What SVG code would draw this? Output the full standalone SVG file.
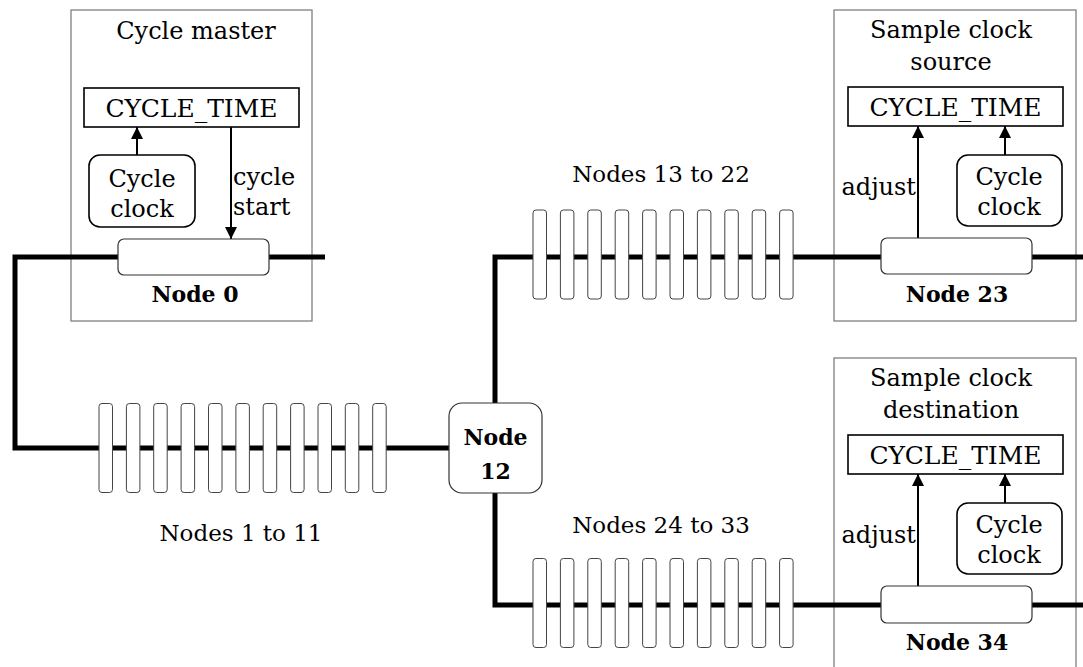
<svg xmlns="http://www.w3.org/2000/svg" width="1083" height="667" viewBox="0 0 1083 667">
  <style>
    text { font-family: "DejaVu Serif", "Liberation Serif", serif; font-size: 24px; fill: #000; }
    .c { text-anchor: middle; }
    .e { text-anchor: end; }
    .b { font-weight: bold; font-size: 22px; }
    .reg-t { font-size: 25px; }
    .grp { font-size: 23px; }
    .panel { fill: #fff; stroke: #808080; stroke-width: 1.3; }
    .reg { fill: #fff; stroke: #000; stroke-width: 1.6; }
    .clk { fill: #fff; stroke: #000; stroke-width: 1.6; }
    .node { fill: #fff; stroke: #333; stroke-width: 1.2; }
    .bar { fill: #fff; stroke: #444; stroke-width: 1; }
    .bus { fill: none; stroke: #000; stroke-width: 5; stroke-linejoin: miter; }
    .sig { fill: none; stroke: #000; stroke-width: 2; marker-end: url(#head); }
  </style>
  <defs>
    <marker id="head" markerUnits="userSpaceOnUse" markerWidth="12" markerHeight="13" refX="12" refY="6" orient="auto">
      <path d="M0,0 L12,6 L0,12 z" fill="#000"/>
    </marker>
    <rect id="tap" class="bar" width="13.5" height="89" rx="3"/>
  </defs>

  <!-- station frames -->
  <g id="cycle-master">
    <rect class="panel" x="71" y="10" width="241" height="311"/>
    <text class="c" x="196" y="39">Cycle master</text>
  </g>
  <g id="clock-source">
    <rect class="panel" x="834" y="10" width="242" height="311"/>
    <text class="c" x="951" y="38">Sample clock</text>
    <text class="c" x="951" y="70">source</text>
  </g>
  <g id="clock-destination">
    <rect class="panel" x="834" y="358" width="242" height="320"/>
    <text class="c" x="951" y="386">Sample clock</text>
    <text class="c" x="951" y="418">destination</text>
  </g>

  <!-- serial bus and signal arrows -->
  <g id="connectors">
    <path class="bus" d="M325,257 H15 V448 H449"/>
    <path class="bus" d="M881,257 H495 V605 H881"/>
    <path class="bus" d="M1032,257 H1083"/>
    <path class="bus" d="M1032,605 H1083"/>
    <line class="sig" x1="137" y1="155" x2="137" y2="127"/>
    <line class="sig" x1="231" y1="127" x2="231" y2="239"/>
    <line class="sig" x1="918" y1="238" x2="918" y2="126"/>
    <line class="sig" x1="1005" y1="155" x2="1005" y2="126"/>
    <line class="sig" x1="918" y1="586" x2="918" y2="474"/>
    <line class="sig" x1="1005" y1="503" x2="1005" y2="474"/>
    <text x="233" y="185">cycle</text>
    <text x="233" y="215">start</text>
    <text class="e" x="916" y="195">adjust</text>
    <text class="e" x="916" y="543">adjust</text>
  </g>

  <!-- Cycle master internals -->
  <g id="master-cycle-time">
    <rect class="reg" x="84" y="88" width="215" height="39"/>
    <text class="c reg-t" x="191.5" y="117">CYCLE_TIME</text>
  </g>
  <g id="master-cycle-clock">
    <rect class="clk" x="89" y="155" width="106" height="72" rx="11"/>
    <text class="c" x="142" y="187">Cycle</text>
    <text class="c" x="142" y="217">clock</text>
  </g>
  <g id="node-0">
    <rect class="node" x="118" y="239" width="151" height="36" rx="6"/>
    <text class="c b" x="195" y="302">Node 0</text>
  </g>

  <!-- Sample clock source internals -->
  <g id="source-cycle-time">
    <rect class="reg" x="848" y="87" width="215" height="39"/>
    <text class="c reg-t" x="955.5" y="116">CYCLE_TIME</text>
  </g>
  <g id="source-cycle-clock">
    <rect class="clk" x="957" y="155" width="105" height="71" rx="11"/>
    <text class="c" x="1009" y="185">Cycle</text>
    <text class="c" x="1009" y="215">clock</text>
  </g>
  <g id="node-23">
    <rect class="node" x="881" y="238" width="151" height="36" rx="6"/>
    <text class="c b" x="957" y="302">Node 23</text>
  </g>

  <!-- Sample clock destination internals -->
  <g id="destination-cycle-time">
    <rect class="reg" x="848" y="435" width="215" height="39"/>
    <text class="c reg-t" x="955.5" y="464">CYCLE_TIME</text>
  </g>
  <g id="destination-cycle-clock">
    <rect class="clk" x="957" y="503" width="105" height="71" rx="11"/>
    <text class="c" x="1009" y="533">Cycle</text>
    <text class="c" x="1009" y="563">clock</text>
  </g>
  <g id="node-34">
    <rect class="node" x="881" y="586" width="151" height="37" rx="6"/>
    <text class="c b" x="957" y="650">Node 34</text>
  </g>

  <!-- bridge node -->
  <g id="node-12">
    <rect class="node" x="449" y="403" width="93" height="90" rx="13"/>
    <text class="c b" x="495.5" y="445">Node</text>
    <text class="c b" x="495.5" y="479">12</text>
  </g>

  <!-- repeater chains -->
  <g id="nodes-1-11">
    <use href="#tap" x="99" y="403.5"/>
    <use href="#tap" x="126.4" y="403.5"/>
    <use href="#tap" x="153.7" y="403.5"/>
    <use href="#tap" x="181.1" y="403.5"/>
    <use href="#tap" x="208.5" y="403.5"/>
    <use href="#tap" x="235.9" y="403.5"/>
    <use href="#tap" x="263.2" y="403.5"/>
    <use href="#tap" x="290.6" y="403.5"/>
    <use href="#tap" x="318" y="403.5"/>
    <use href="#tap" x="345.3" y="403.5"/>
    <use href="#tap" x="372.7" y="403.5"/>
    <text class="c grp" x="241" y="541">Nodes 1 to 11</text>
  </g>
  <g id="nodes-13-22">
    <use href="#tap" x="533" y="210"/>
    <use href="#tap" x="560.4" y="210"/>
    <use href="#tap" x="587.8" y="210"/>
    <use href="#tap" x="615.2" y="210"/>
    <use href="#tap" x="642.6" y="210"/>
    <use href="#tap" x="670" y="210"/>
    <use href="#tap" x="697.4" y="210"/>
    <use href="#tap" x="724.8" y="210"/>
    <use href="#tap" x="752.2" y="210"/>
    <use href="#tap" x="779.6" y="210"/>
    <text class="c grp" x="661" y="182">Nodes 13 to 22</text>
  </g>
  <g id="nodes-24-33">
    <use href="#tap" x="533" y="558.5"/>
    <use href="#tap" x="560.4" y="558.5"/>
    <use href="#tap" x="587.8" y="558.5"/>
    <use href="#tap" x="615.2" y="558.5"/>
    <use href="#tap" x="642.6" y="558.5"/>
    <use href="#tap" x="670" y="558.5"/>
    <use href="#tap" x="697.4" y="558.5"/>
    <use href="#tap" x="724.8" y="558.5"/>
    <use href="#tap" x="752.2" y="558.5"/>
    <use href="#tap" x="779.6" y="558.5"/>
    <text class="c grp" x="661" y="533">Nodes 24 to 33</text>
  </g>
</svg>
